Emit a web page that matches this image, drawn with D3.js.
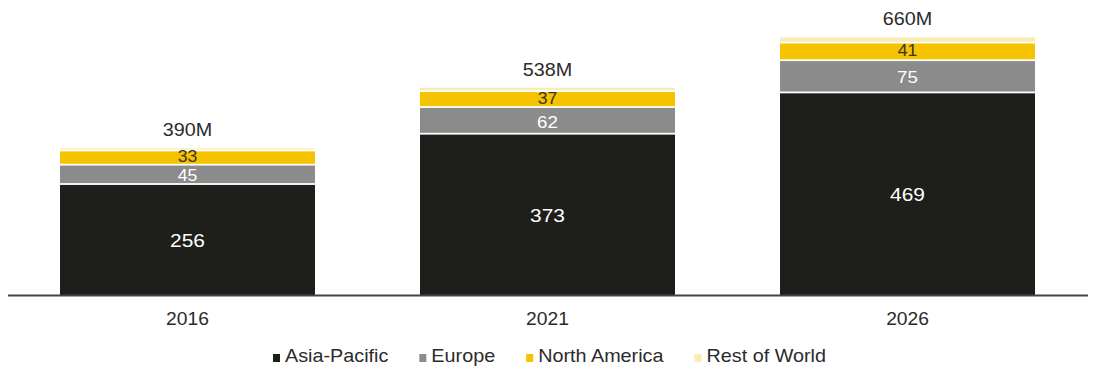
<!DOCTYPE html>
<html>
<head>
<meta charset="utf-8">
<script src="https://cdn.jsdelivr.net/npm/d3@7/dist/d3.min.js"></script>
<style>
  html, body { margin: 0; padding: 0; background: #fff; }
  svg { display: block; font-family: "Liberation Sans", Arial, sans-serif; }
</style>
</head>
<body>
<svg id="chart" width="1096" height="376"></svg>
<script>
const years = ["2016", "2021", "2026"];
const seriesNames = ["Asia-Pacific", "Europe", "North America", "Rest of World"];
const asiaPacific = [256, 373, 469];
const europe = [45, 62, 75];
const northAmerica = [33, 37, 41];
const restOfWorld = [7, 10, 14];
const totalLabels = ["390M", "538M", "660M"];

const colors = ["#1e1f1b", "#8b8b8b", "#f5c300", "#f7ebb6"];
const labelColors = ["#ffffff", "#ffffff", "#3a3320", null];

const svg = d3.select("#chart");
const baseY = 295;
const sx = 1.1; // horizontal text stretch of the reference

const x = d3.scaleBand().domain(years).range([7.5, 1087.5])
  .paddingInner(0.2917).paddingOuter(0.1458);
const y = d3.scaleLinear().domain([0, 600]).range([baseY, 37]);

const seriesValues = [asiaPacific, europe, northAmerica, restOfWorld];
const rows = years.map((yr, i) => {
  const r = { year: yr };
  seriesNames.forEach((s, k) => r[s] = seriesValues[k][i]);
  return r;
});
const stack = d3.stack().keys(seriesNames)(rows);

function stretchedText(sel, px, py) {
  return sel.attr("transform", `translate(${px},${py}) scale(${sx},1)`);
}

const labelNudge = [0, 1, -1, 0];

const g = svg.append("g");
stack.forEach((layer, k) => {
  layer.forEach((d, i) => {
    const x0 = x(years[i]);
    const top = y(d[1]);
    const bot = y(d[0]);
    const h = (k === 0 ? bot - top : bot - top - 1.8);
    g.append("rect")
      .attr("x", x0).attr("y", top)
      .attr("width", x.bandwidth()).attr("height", Math.max(0, h))
      .attr("fill", colors[k]);
    if (labelColors[k]) {
      const cy = top + h / 2 + labelNudge[k];
      const fs = k === 0 ? 19 : (h < 20 ? 16 : 17);
      stretchedText(g.append("text"), x0 + x.bandwidth() / 2, cy + fs * 0.36)
        .attr("text-anchor", "middle")
        .attr("font-size", fs)
        .attr("fill", labelColors[k])
        .text(d.data[seriesNames[k]]);
    }
  });
});

// totals
const topLayer = stack[stack.length - 1];
topLayer.forEach((d, i) => {
  stretchedText(g.append("text"), x(years[i]) + x.bandwidth() / 2, y(d[1]) - 12)
    .attr("text-anchor", "middle")
    .attr("font-size", 18)
    .attr("fill", "#2b2b2b")
    .text(totalLabels[i]);
});

// axis
const axis = svg.append("g").attr("transform", `translate(0,${baseY})`)
  .call(d3.axisBottom(x).tickSize(0).tickPadding(0));
axis.select(".domain").attr("stroke", "#444").attr("stroke-width", 2)
  .attr("d", "M8,0.5H1088");
axis.selectAll(".tick text").each(function(d) {
  const t = d3.select(this);
  t.attr("y", null).attr("dy", null)
   .attr("font-size", 17.5).attr("fill", "#2b2b2b")
   .attr("font-family", "Liberation Sans, Arial, sans-serif")
   .attr("transform", `translate(0,30) scale(${sx},1)`);
});

// legend
const legend = svg.append("g");
const legendFs = 18;
let lx = 273;
const ly = 362;
seriesNames.forEach((s, k) => {
  legend.append("rect").attr("x", lx).attr("y", ly - 8).attr("width", 7).attr("height", 8)
    .attr("fill", colors[k]);
  const t = stretchedText(legend.append("text"), lx + 12, ly)
    .attr("font-size", legendFs).attr("fill", "#2b2b2b").text(s);
  const w = t.node().getComputedTextLength() * sx;
  lx += 12 + w + 31;
});
</script>
</body>
</html>
